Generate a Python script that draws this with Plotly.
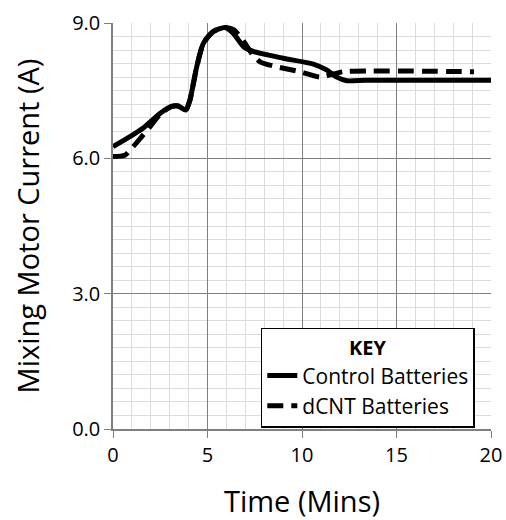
import plotly.graph_objects as go

# Control Batteries (solid)
control_t = [0.0, 0.9, 1.6, 2.5, 3.1, 3.45, 3.85, 4.07, 4.43, 4.78, 5.3, 5.93, 6.37, 6.9, 7.42, 9.0, 10.6, 11.3, 11.84, 12.37, 13.4, 20.0]
control_i = [6.26, 6.48, 6.67, 7.0, 7.15, 7.16, 7.07, 7.29, 8.03, 8.55, 8.81, 8.9, 8.77, 8.48, 8.37, 8.22, 8.09, 7.96, 7.80, 7.72, 7.73, 7.73]

# dCNT Batteries (dashed)
dcnt_t = [0.0, 0.63, 1.07, 1.52, 1.96, 2.5, 3.1, 3.45, 3.85, 4.07, 4.43, 4.78, 5.3, 5.93, 6.4, 6.9, 7.3, 7.78, 8.66, 9.89, 10.95, 11.5, 12.18, 19.1]
dcnt_i = [6.04, 6.07, 6.26, 6.48, 6.70, 6.98, 7.15, 7.16, 7.07, 7.29, 8.03, 8.55, 8.81, 8.9, 8.85, 8.6, 8.35, 8.14, 8.03, 7.92, 7.80, 7.85, 7.92, 7.92]

x_ticks = [0, 5, 10, 15, 20]
y_ticks = [0.0, 3.0, 6.0, 9.0]

FONT = "Open Sans"

fig = go.Figure()
fig.add_trace(go.Scatter(x=control_t, y=control_i, mode="lines", name="Control Batteries",
                         line=dict(color="black", width=5, shape="spline", smoothing=0.6)))
fig.add_trace(go.Scatter(x=dcnt_t, y=dcnt_i, mode="lines", name="dCNT Batteries",
                         line=dict(color="black", width=5, dash="16px,8px", shape="spline", smoothing=0.6)))

fig.update_layout(
    width=506, height=520,
    margin=dict(l=113, r=15, t=23, b=91),
    paper_bgcolor="white", plot_bgcolor="white",
    font=dict(family=FONT, color="black", size=18),
    showlegend=True,
    legend=dict(
        x=0.391, y=0.249, xanchor="left", yanchor="top",
        bgcolor="white", bordercolor="black", borderwidth=1.5,
        title=dict(text="<b>KEY</b>", side="top center", font=dict(size=20, family=FONT)),
        font=dict(size=21, family=FONT),
        tracegroupgap=0, itemwidth=30,
    ),
    xaxis=dict(
        range=[0, 20], tickvals=x_ticks, ticktext=[str(v) for v in x_ticks],
        showgrid=True, gridcolor="#7f7f7f", gridwidth=1,
        minor=dict(dtick=1, showgrid=True, gridcolor="#dcdcdc", gridwidth=1),
        showline=True, linecolor="#7f7f7f", linewidth=1.5,
        ticks="outside", ticklen=7, tickcolor="#7f7f7f",
        tickfont=dict(size=20, family=FONT), ticklabeloverflow="allow",
        title=dict(text="Time (Mins)", font=dict(size=29, family=FONT), standoff=35),
        zeroline=False, automargin=False,
    ),
    yaxis=dict(
        range=[0, 9], tickvals=y_ticks, ticktext=["%.1f" % v for v in y_ticks],
        showgrid=True, gridcolor="#7f7f7f", gridwidth=1,
        minor=dict(dtick=0.3, showgrid=True, gridcolor="#dcdcdc", gridwidth=1),
        showline=True, linecolor="#7f7f7f", linewidth=1.5,
        ticks="outside", ticklen=7, tickcolor="#7f7f7f",
        tickfont=dict(size=20, family=FONT),
        title=dict(text="Mixing Motor Current (A)", font=dict(size=29, family=FONT), standoff=24),
        zeroline=False, automargin=False,
    ),
)

fig.write_html(
    "out.html",
    config={"displayModeBar": False},
    post_script="document.body.style.margin='0';document.body.style.overflow='hidden';",
)
